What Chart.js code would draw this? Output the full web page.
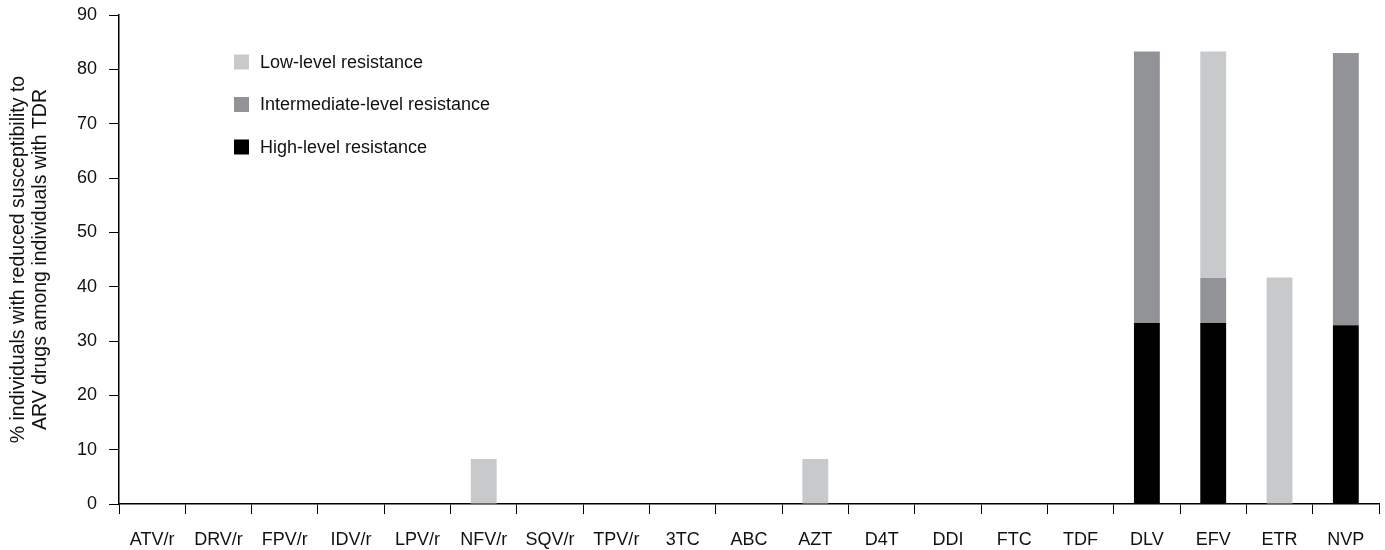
<!DOCTYPE html>
<html>
<head>
<meta charset="utf-8">
<script src="https://cdn.jsdelivr.net/npm/chart.js@4"></script>
<style>
    body { margin: 0; background: #fff; }
    #wrap { width: 1385px; height: 550px; }
</style>
</head>
<body>
<div id="wrap"><canvas id="resistance-chart"></canvas></div>
<script>
// Drug names along the x axis
const drugs = ["ATV/r", "DRV/r", "FPV/r", "IDV/r", "LPV/r", "NFV/r", "SQV/r", "TPV/r", "3TC", "ABC",
               "AZT", "D4T", "DDI", "FTC", "TDF", "DLV", "EFV", "ETR", "NVP"];

// % of individuals per resistance level (stacked: high at the bottom)
const highLevel         = [0, 0, 0, 0, 0, 0,   0, 0, 0, 0, 0,   0, 0, 0, 0, 33.3, 33.3, 0,    32.9];
const intermediateLevel = [0, 0, 0, 0, 0, 0,   0, 0, 0, 0, 0,   0, 0, 0, 0, 50.0, 8.3,  0,    50.1];
const lowLevel          = [0, 0, 0, 0, 0, 8.3, 0, 0, 0, 0, 8.3, 0, 0, 0, 0, 0,    41.7, 41.7, 0];

const yTicks = [0, 10, 20, 30, 40, 50, 60, 70, 80, 90];

const textColour = "#111111";
const fontFamily = "'Liberation Sans', Arial, sans-serif";

/*
* Draws the legend inside the plot, top left, in the original order
*/
const insideLegend = {
    id: 'insideLegend',
    afterDraw: function(chart) {
        var ctx = chart.ctx;
        var order = [2, 1, 0];
        ctx.save();
        ctx.font = "18px " + fontFamily;
        ctx.textBaseline = "middle";
        order.forEach(function(idx, row) {
            var ds = chart.data.datasets[idx];
            var y = 62 + row * 42.5;
            ctx.fillStyle = ds.backgroundColor;
            ctx.fillRect(234, y - 7.5, 15, 15);
            ctx.fillStyle = textColour;
            ctx.fillText(ds.label, 260, y + 1);
        });
        ctx.restore();
    }
};

window.onload = function() {
    const area = document.getElementById('resistance-chart').getContext('2d');
    new Chart(area, {
        type: 'bar',
        data: {
            labels: drugs,
            datasets: [
                { label: 'High-level resistance', data: highLevel, backgroundColor: '#000000' },
                { label: 'Intermediate-level resistance', data: intermediateLevel, backgroundColor: '#929396' },
                { label: 'Low-level resistance', data: lowLevel, backgroundColor: '#c8c9cb' }
            ]
        },
        options: {
            responsive: true,
            maintainAspectRatio: false,
            animation: false,
            layout: { padding: { top: 15, right: 6, left: 0, bottom: 0 } },
            datasets: { bar: { barPercentage: 0.39, categoryPercentage: 1.0, borderWidth: 0 } },
            plugins: {
                legend: { display: false },
                tooltip: { enabled: false }
            },
            scales: {
                x: {
                    stacked: true,
                    grid: { offset: true, drawOnChartArea: false, drawTicks: true, tickLength: 10, color: '#000', lineWidth: 1 },
                    border: { color: '#000', width: 1.5 },
                    ticks: { color: textColour, font: { family: fontFamily, size: 18 }, padding: 15, maxRotation: 0, autoSkip: false },
                    afterFit: function(scale) {
                        scale.height = 46;
                        scale.paddingLeft = 0;
                        scale.paddingRight = 0;
                    }
                },
                y: {
                    stacked: true,
                    min: 0,
                    max: 90,
                    afterBuildTicks: function(scale) {
                        scale.ticks = yTicks.map(function(v) { return { value: v }; });
                    },
                    grid: { drawOnChartArea: false, drawTicks: true, tickLength: 10, color: '#000', lineWidth: 1 },
                    border: { color: '#000', width: 1.5 },
                    ticks: { color: textColour, font: { family: fontFamily, size: 18 }, padding: 12 },
                    title: {
                        display: true,
                        text: ["% individuals with reduced susceptibility to", "ARV drugs among individuals with TDR"],
                        color: textColour,
                        font: { family: fontFamily, size: 19.5, lineHeight: 1.13 },
                        padding: { top: 7.5, bottom: 0 }
                    },
                    afterFit: function(scale) {
                        scale.width = 119;
                        scale.paddingTop = 0;
                        scale.paddingBottom = 0;
                    }
                }
            }
        },
        plugins: [insideLegend]
    });
};
</script>
</body>
</html>
